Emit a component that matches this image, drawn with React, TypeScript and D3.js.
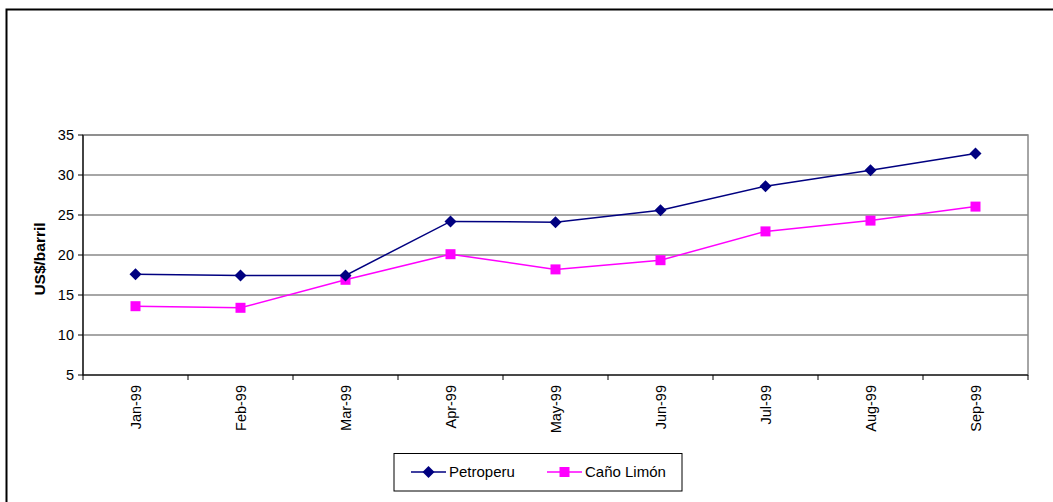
import React from "react";
import * as d3 from "d3";

const categories = ["Jan-99", "Feb-99", "Mar-99", "Apr-99", "May-99", "Jun-99", "Jul-99", "Aug-99", "Sep-99"];
const petroperu = [17.6, 17.45, 17.45, 24.2, 24.1, 25.6, 28.6, 30.6, 32.7];
const canoLimon = [13.6, 13.4, 16.9, 20.1, 18.2, 19.35, 22.95, 24.3, 26.05];
const yTicks = [5, 10, 15, 20, 25, 30, 35];
const seriesNames = ["Petroperu", "Caño Limón"];

const W = 1053;
const H = 502;
const left = 83;
const right = 1028;
const top = 135;
const bottom = 375;
const FONT = "'Liberation Sans', Arial, sans-serif";
const DIAMOND = "M0,-6L6,0L0,6L-6,0Z";

export default function App() {
  const x = d3.scaleBand<string>().domain(categories).range([left, right]).padding(0);
  const y = d3.scaleLinear().domain([5, 35]).range([bottom, top]);
  const cx = (c: string) => (x(c) as number) + x.bandwidth() / 2;
  const line = d3
    .line<number>()
    .x((_, i) => cx(categories[i]))
    .y((d) => y(d));
  const boundaries = d3.range(categories.length + 1).map((i) => left + i * x.bandwidth());

  return (
    <svg
      width={W}
      height={H}
      style={{ position: "absolute", left: 0, top: 0, background: "#fff" }}
      fontFamily={FONT}
    >
      <rect x={0} y={0} width={W} height={H} fill="#fff" />
      <rect x={6.5} y={9.5} width={W + 10} height={H + 10} fill="none" stroke="#000" strokeWidth={2} />
      <rect x={left} y={top} width={right - left} height={bottom - top} fill="none" stroke="#888" strokeWidth={1.5} />
      {yTicks.map((t) => (
        <line key={"g" + t} x1={left} x2={right} y1={y(t)} y2={y(t)} stroke="#888" strokeWidth={1.5} />
      ))}
      <line x1={left} x2={left} y1={top} y2={bottom} stroke="#000" strokeWidth={1.2} />
      <line x1={left} x2={right} y1={bottom} y2={bottom} stroke="#000" strokeWidth={1.2} />
      {yTicks.map((t) => (
        <g key={"yt" + t}>
          <line x1={left - 5} x2={left} y1={y(t)} y2={y(t)} stroke="#000" />
          <text x={left - 9} y={y(t)} dy="0.35em" textAnchor="end" fontSize={14.5} fill="#000">
            {t}
          </text>
        </g>
      ))}
      {boundaries.map((b, i) => (
        <line key={"xt" + i} x1={b} x2={b} y1={bottom} y2={bottom + 5} stroke="#000" />
      ))}
      {categories.map((c) => (
        <text
          key={"xl" + c}
          transform={`translate(${cx(c)},${bottom + 10}) rotate(-90)`}
          textAnchor="end"
          dy="0.35em"
          fontSize={14.5}
          fill="#000"
        >
          {c}
        </text>
      ))}
      <text
        transform={`translate(40,259) rotate(-90)`}
        textAnchor="middle"
        dy="0.35em"
        fontSize={15.5}
        fontWeight="bold"
        fill="#000"
      >
        US$/barril
      </text>
      <path d={line(canoLimon) || ""} fill="none" stroke="#FF00FF" strokeWidth={1.5} />
      <path d={line(petroperu) || ""} fill="none" stroke="#000080" strokeWidth={1.5} />
      {canoLimon.map((v, i) => (
        <rect key={"c" + i} x={cx(categories[i]) - 5} y={y(v) - 5} width={10} height={10} fill="#FF00FF" />
      ))}
      {petroperu.map((v, i) => (
        <path key={"p" + i} d={DIAMOND} transform={`translate(${cx(categories[i])},${y(v)})`} fill="#000080" />
      ))}
      <rect x={394} y={453.5} width={288} height={37.5} fill="#fff" stroke="#000" strokeWidth={1} />
      <line x1={411} x2={446} y1={472} y2={472} stroke="#000080" strokeWidth={1.5} />
      <path d={DIAMOND} transform="translate(428.5,472)" fill="#000080" />
      <text x={449} y={472} dy="0.35em" fontSize={15} fill="#000">
        {seriesNames[0]}
      </text>
      <line x1={547} x2={582} y1={472} y2={472} stroke="#FF00FF" strokeWidth={1.5} />
      <rect x={559.5} y={467} width={10} height={10} fill="#FF00FF" />
      <text x={585} y={472} dy="0.35em" fontSize={15} fill="#000">
        {seriesNames[1]}
      </text>
    </svg>
  );
}
